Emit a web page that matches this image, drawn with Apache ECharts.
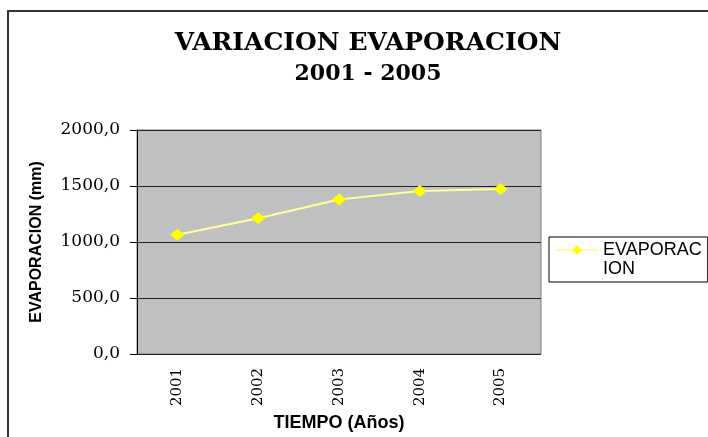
<!DOCTYPE html>
<html>
<head>
<meta charset="utf-8">
<script src="https://cdn.jsdelivr.net/npm/echarts@6/dist/echarts.min.js"></script>
<style>
html,body{margin:0;padding:0;background:#fff;}
#chart{width:708px;height:437px;}
</style>
</head>
<body>
<div id="chart"></div>
<script>
const titleLine1 = 'VARIACION EVAPORACION';
const titleLine2 = '2001 - 2005';
const years = ['2001', '2002', '2003', '2004', '2005'];
const evaporacion = [1065, 1211, 1380, 1455, 1473];
const seriesName = 'EVAPORACION';
const legendLabel = 'EVAPORAC\nION';
const yAxisName = 'EVAPORACION (mm)';
const xAxisName = 'TIEMPO (Años)';

const chart = echarts.init(document.getElementById('chart'), null, {renderer: 'canvas'});
chart.setOption({
  backgroundColor: '#ffffff',
  animation: false,
  title: {
    text: '{a|' + titleLine1 + '}\n{b|' + titleLine2 + '}',
    left: 368,
    top: 28,
    textAlign: 'center',
    padding: 0,
    textStyle: {
      fontFamily: 'DejaVu Serif',
      fontWeight: 'bold',
      color: '#000',
      rich: {
        a: {fontFamily: 'DejaVu Serif', fontWeight: 'bold', fontSize: 25, lineHeight: 31, color: '#000'},
        b: {fontFamily: 'DejaVu Serif', fontWeight: 'bold', fontSize: 22, lineHeight: 31, color: '#000'}
      }
    }
  },
  graphic: [{
    type: 'rect',
    shape: {x: 8, y: 11, width: 720, height: 440},
    style: {fill: 'none', stroke: '#333', lineWidth: 2},
    silent: true,
    z: -1
  }],
  legend: {
    left: 549,
    top: 237,
    orient: 'vertical',
    padding: [-15.5, 6, 3.5, 6],
    borderColor: '#000',
    borderWidth: 1,
    itemWidth: 42,
    itemHeight: 12,
    itemGap: 0,
    formatter: function () { return '\n' + legendLabel; },
    textStyle: {
      fontFamily: 'Liberation Sans',
      fontSize: 18,
      lineHeight: 19,
      color: '#000'
    },
    data: [seriesName]
  },
  grid: {
    left: 137,
    right: 167,
    top: 130,
    bottom: 83,
    show: true,
    backgroundColor: '#C0C0C0',
    borderColor: '#808080',
    borderWidth: 1
  },
  xAxis: {
    type: 'category',
    data: years,
    boundaryGap: true,
    name: xAxisName,
    nameLocation: 'middle',
    nameGap: 60,
    nameTextStyle: {fontFamily: 'Liberation Sans', fontWeight: 'bold', fontSize: 18, color: '#000'},
    axisLine: {show: false},
    axisTick: {show: false},
    axisLabel: {
      rotate: 90,
      margin: 14,
      fontFamily: 'DejaVu Serif',
      fontSize: 15,
      color: '#000'
    },
    splitLine: {show: false}
  },
  yAxis: {
    type: 'value',
    min: 0,
    max: 2000,
    interval: 500,
    name: yAxisName,
    nameLocation: 'middle',
    nameGap: 92,
    nameTextStyle: {fontFamily: 'Liberation Sans', fontWeight: 'bold', fontSize: 16, color: '#000'},
    axisLine: {show: true, lineStyle: {color: '#000', width: 1}},
    axisTick: {show: true, inside: false, length: 7, lineStyle: {color: '#000'}},
    axisLabel: {
      margin: 17,
      fontFamily: 'DejaVu Serif',
      fontSize: 17,
      color: '#000',
      formatter: function (v) { return v.toFixed(1).replace('.', ','); }
    },
    splitLine: {show: true, lineStyle: {color: '#222', width: 1}}
  },
  series: [{
    name: seriesName,
    type: 'line',
    data: evaporacion,
    symbol: 'diamond',
    symbolSize: [14, 12],
    itemStyle: {color: '#FFFF00'},
    lineStyle: {color: '#FFFF99', width: 2}
  }]
});
</script>
</body>
</html>
